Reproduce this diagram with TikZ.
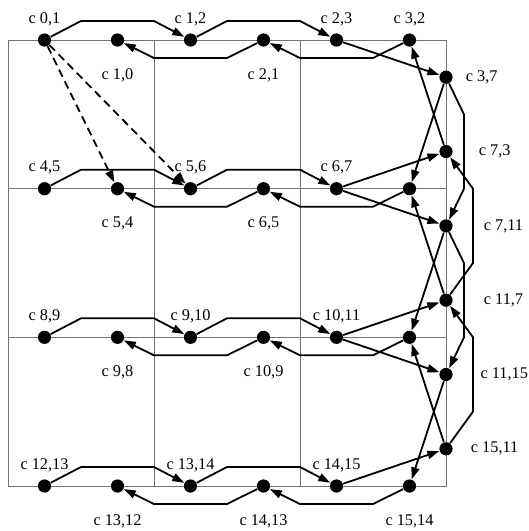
\documentclass[tikz,border=0pt]{standalone}
\usepackage{fontspec}
\setmainfont{Liberation Serif}
\usetikzlibrary{arrows.meta}

\begin{document}
\begin{tikzpicture}[
    x=0.5pt, y=-0.5pt,
    chan/.style={circle, fill, inner sep=0pt, minimum size=6.6pt},
    every label/.style={font=\fontsize{8.15}{10}\selectfont, inner sep=0pt},
    lblup/.style={label={[label distance=3.4pt]above:{#1}}},
    lbldown/.style={label={[label distance=10.5pt]below:{#1}}},
    dep/.style={-{Triangle[length=6pt,width=4pt]}, line width=0.9pt},
    cellline/.style={black!55, line width=0.5pt}
  ]
  \useasboundingbox (0,0) rectangle (529,531);
  \draw[cellline] (8,40) rectangle (446,486);
  \draw[cellline] (154,40) -- (154,486) (300,40) -- (300,486)
    (8,188.7) -- (446,188.7) (8,337.3) -- (446,337.3);

  \node[chan, lblup={c 0,1}] (c0-1) at (44.5,40) {};
  \node[chan, lbldown={c 1,0}] (c1-0) at (117.5,40) {};
  \node[chan, lblup={c 1,2}] (c1-2) at (190.5,40) {};
  \node[chan, lbldown={c 2,1}] (c2-1) at (263.5,40) {};
  \node[chan, lblup={c 2,3}] (c2-3) at (336.5,40) {};
  \node[chan, lblup={c 3,2}] (c3-2) at (409.5,40) {};

  \node[chan, lblup={c 4,5}] (c4-5) at (44.5,188.7) {};
  \node[chan, lbldown={c 5,4}] (c5-4) at (117.5,188.7) {};
  \node[chan, lblup={c 5,6}] (c5-6) at (190.5,188.7) {};
  \node[chan, lbldown={c 6,5}] (c6-5) at (263.5,188.7) {};
  \node[chan, lblup={c 6,7}] (c6-7) at (336.5,188.7) {};
  \node[chan] (c7-6) at (409.5,188.7) {};

  \node[chan, lblup={c 8,9}] (c8-9) at (44.5,337.3) {};
  \node[chan, lbldown={c 9,8}] (c9-8) at (117.5,337.3) {};
  \node[chan, lblup={c 9,10}] (c9-10) at (190.5,337.3) {};
  \node[chan, lbldown={c 10,9}] (c10-9) at (263.5,337.3) {};
  \node[chan, lblup={c 10,11}] (c10-11) at (336.5,337.3) {};
  \node[chan] (c11-10) at (409.5,337.3) {};

  \node[chan, lblup={c 12,13}] (c12-13) at (44.5,486) {};
  \node[chan, lbldown={c 13,12}] (c13-12) at (117.5,486) {};
  \node[chan, lblup={c 13,14}] (c13-14) at (190.5,486) {};
  \node[chan, lbldown={c 14,13}] (c14-13) at (263.5,486) {};
  \node[chan, lblup={c 14,15}] (c14-15) at (336.5,486) {};
  \node[chan, lbldown={c 15,14}] (c15-14) at (409.5,486) {};

  \node[chan, label={[label distance=6.25pt]right:{c 3,7}}] (c3-7) at (446,77.2) {};
  \node[chan, label={[label distance=12.75pt]right:{c 7,3}}] (c7-3) at (446,151.5) {};
  \node[chan, label={[label distance=15.25pt]right:{c 7,11}}] (c7-11) at (446,225.9) {};
  \node[chan, label={[label distance=15.25pt]right:{c 11,7}}] (c11-7) at (446,300.2) {};
  \node[chan, label={[label distance=13.6pt]right:{c 11,15}}] (c11-15) at (446,374.5) {};
  \node[chan, label={[label distance=8.75pt]right:{c 15,11}}] (c15-11) at (446,448.8) {};

  \draw[dep] (c0-1) -- ++(36.5,-19) -- ++(73,0) -- (c1-2);
  \draw[dep] (c1-2) -- ++(36.5,-19) -- ++(73,0) -- (c2-3);
  \draw[dep] (c4-5) -- ++(36.5,-19) -- ++(73,0) -- (c5-6);
  \draw[dep] (c5-6) -- ++(36.5,-19) -- ++(73,0) -- (c6-7);
  \draw[dep] (c8-9) -- ++(36.5,-19) -- ++(73,0) -- (c9-10);
  \draw[dep] (c9-10) -- ++(36.5,-19) -- ++(73,0) -- (c10-11);
  \draw[dep] (c12-13) -- ++(36.5,-19) -- ++(73,0) -- (c13-14);
  \draw[dep] (c13-14) -- ++(36.5,-19) -- ++(73,0) -- (c14-15);

  \draw[dep] (c3-2) -- ++(-36.5,18) -- ++(-73,0) -- (c2-1);
  \draw[dep] (c2-1) -- ++(-36.5,18) -- ++(-73,0) -- (c1-0);
  \draw[dep] (c7-6) -- ++(-36.5,18) -- ++(-73,0) -- (c6-5);
  \draw[dep] (c6-5) -- ++(-36.5,18) -- ++(-73,0) -- (c5-4);
  \draw[dep] (c11-10) -- ++(-36.5,18) -- ++(-73,0) -- (c10-9);
  \draw[dep] (c10-9) -- ++(-36.5,18) -- ++(-73,0) -- (c9-8);
  \draw[dep] (c15-14) -- ++(-36.5,18) -- ++(-73,0) -- (c14-13);
  \draw[dep] (c14-13) -- ++(-36.5,18) -- ++(-73,0) -- (c13-12);

  \draw[dep] (c3-7) -- ++(18,37.2) -- ++(0,74.3) -- (c7-11);
  \draw[dep] (c7-11) -- ++(18,37.2) -- ++(0,74.3) -- (c11-15);
  \draw[dep] (c11-7) -- ++(27,-37.2) -- ++(0,-74.3) -- (c7-3);
  \draw[dep] (c15-11) -- ++(27,-37.2) -- ++(0,-74.3) -- (c11-7);

  \draw[dep] (c2-3) -- (c3-7);
  \draw[dep] (c6-7) -- (c7-3);
  \draw[dep] (c6-7) -- (c7-11);
  \draw[dep] (c10-11) -- (c11-7);
  \draw[dep] (c10-11) -- (c11-15);
  \draw[dep] (c14-15) -- (c15-11);
  \draw[dep] (c7-3) -- (c3-2);
  \draw[dep] (c3-7) -- (c7-6);
  \draw[dep] (c11-7) -- (c7-6);
  \draw[dep] (c7-11) -- (c11-10);
  \draw[dep] (c15-11) -- (c11-10);
  \draw[dep] (c11-15) -- (c15-14);

  \draw[dep, dash pattern=on 4pt off 2.5pt] (c0-1) -- (c5-4);
  \draw[dep, dash pattern=on 4pt off 2.5pt] (c0-1) -- (c5-6);
\end{tikzpicture}
\end{document}
